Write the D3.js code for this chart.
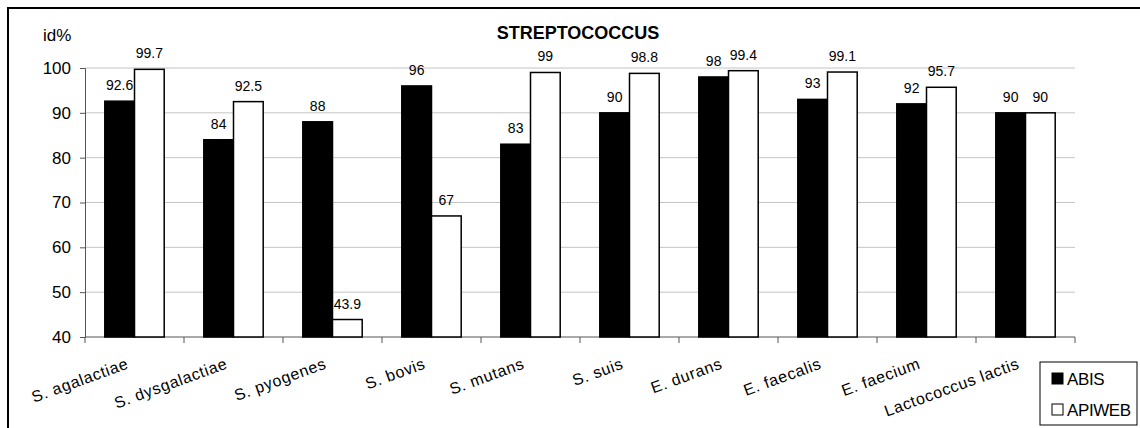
<!DOCTYPE html>
<html>
<head>
<meta charset="utf-8">
<script src="https://cdn.jsdelivr.net/npm/d3@7"></script>
<style>
  body { margin: 0; background: #fff; }
  svg text { font-family: "Liberation Sans", Arial, sans-serif; fill: #000; }
</style>
</head>
<body>
<div id="root"></div>
<script>
// data
const categories = ['S. agalactiae', 'S. dysgalactiae', 'S. pyogenes', 'S. bovis', 'S. mutans',
  'S. suis', 'E. durans', 'E. faecalis', 'E. faecium', 'Lactococcus lactis'];
const seriesNames = ['ABIS', 'APIWEB'];
const abis = [92.6, 84, 88, 96, 83, 90, 98, 93, 92, 90];
const apiweb = [99.7, 92.5, 43.9, 67, 99, 98.8, 99.4, 99.1, 95.7, 90];
const yTicks = [40, 50, 60, 70, 80, 90, 100];

const width = 1140, height = 428;
const fills = { ABIS: '#000', APIWEB: '#fff' };

const svg = d3.select('#root').append('svg')
  .attr('width', width)
  .attr('height', height)
  .attr('viewBox', [0, 0, width, height]);

// outer frame (cropped at right and bottom in the original)
svg.append('rect')
  .attr('x', 8).attr('y', 8)
  .attr('width', 1300).attr('height', 600)
  .attr('fill', 'none').attr('stroke', '#000').attr('stroke-width', 2);

const x0 = d3.scaleBand().domain(categories).range([85, 1075])
  .paddingInner(0.4).paddingOuter(0.2);
const x1 = d3.scaleBand().domain(seriesNames).range([0, x0.bandwidth()]);
const y = d3.scaleLinear().domain([40, 100]).range([337, 68]);

// gridlines
svg.append('g')
  .selectAll('line')
  .data(yTicks.filter((d) => d > 40))
  .join('line')
  .attr('x1', 85).attr('x2', 1075)
  .attr('y1', (d) => y(d)).attr('y2', (d) => y(d))
  .attr('stroke', '#c4c4c4').attr('stroke-width', 1);

// y axis
const yAxis = svg.append('g')
  .attr('transform', 'translate(85,0)')
  .call(d3.axisLeft(y).tickValues(yTicks).tickSize(5).tickPadding(9));
yAxis.select('.domain').attr('stroke', '#555');
yAxis.selectAll('.tick line').attr('stroke', '#555');
yAxis.selectAll('text').attr('font-size', 17);

// x axis: ticks at category boundaries
const boundaries = d3.range(categories.length + 1).map((i) => 85 + i * x0.step());
svg.append('line')
  .attr('x1', 85).attr('x2', 1075).attr('y1', 337).attr('y2', 337)
  .attr('stroke', '#555');
svg.append('g')
  .selectAll('line')
  .data(boundaries)
  .join('line')
  .attr('x1', (d) => d).attr('x2', (d) => d)
  .attr('y1', 337).attr('y2', 343)
  .attr('stroke', '#555');

// category labels, rotated
svg.append('g')
  .selectAll('text')
  .data(categories)
  .join('text')
  .attr('transform', (d) => `translate(${x0(d) + x0.bandwidth() / 2 - 5},368) rotate(-20)`)
  .attr('text-anchor', 'end')
  .attr('font-size', 16)
  .attr('letter-spacing', 0.7)
  .text((d) => d);

// bars
const rows = categories.map((c, i) => ({ cat: c, values: [
  { name: 'ABIS', value: abis[i] },
  { name: 'APIWEB', value: apiweb[i] }
] }));

const groups = svg.append('g')
  .selectAll('g')
  .data(rows)
  .join('g')
  .attr('transform', (d) => `translate(${x0(d.cat)},0)`);

groups.selectAll('rect')
  .data((d) => d.values)
  .join('rect')
  .attr('x', (d) => x1(d.name))
  .attr('y', (d) => y(d.value))
  .attr('width', x1.bandwidth())
  .attr('height', (d) => y(40) - y(d.value))
  .attr('fill', (d) => fills[d.name])
  .attr('stroke', '#000')
  .attr('stroke-width', 1.5);

groups.selectAll('text')
  .data((d) => d.values)
  .join('text')
  .attr('x', (d) => x1(d.name) + x1.bandwidth() / 2)
  .attr('y', (d) => y(d.value) - 11)
  .attr('text-anchor', 'middle')
  .attr('font-size', 14)
  .text((d) => d.value);

// title + axis label
svg.append('text')
  .attr('x', 578).attr('y', 39)
  .attr('text-anchor', 'middle')
  .attr('font-size', 18)
  .attr('font-weight', 'bold')
  .text('STREPTOCOCCUS');

svg.append('text')
  .attr('x', 43).attr('y', 41)
  .attr('font-size', 17)
  .text('id%');

// legend
const legend = svg.append('g').attr('transform', 'translate(1040,362)');
legend.append('rect')
  .attr('width', 97).attr('height', 63)
  .attr('fill', '#fff').attr('stroke', '#000');
legend.selectAll('g')
  .data(seriesNames)
  .join('g')
  .attr('transform', (d, i) => `translate(12,${17 + i * 31})`)
  .call((g) => {
    g.append('rect')
      .attr('x', 0).attr('y', -6)
      .attr('width', 11).attr('height', 11)
      .attr('fill', (d) => fills[d])
      .attr('stroke', '#000');
    g.append('text')
      .attr('x', 15).attr('y', 6)
      .attr('font-size', 17)
      .attr('letter-spacing', -0.4)
      .text((d) => d);
  });
</script>
</body>
</html>
